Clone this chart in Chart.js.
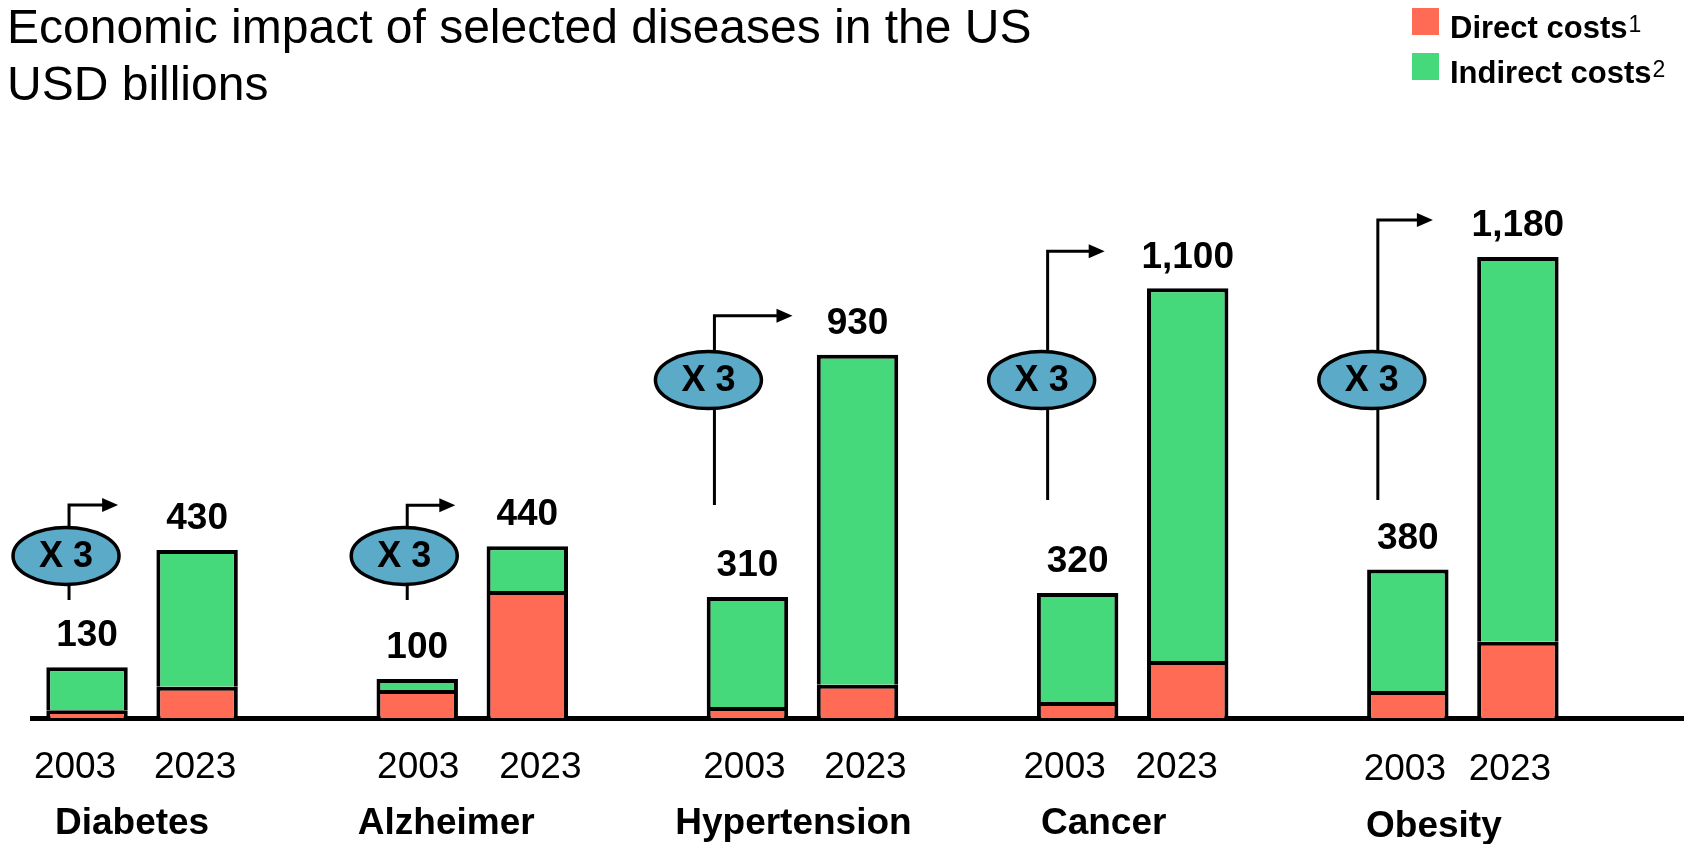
<!DOCTYPE html>
<html>
<head>
<meta charset="utf-8">
<script src="https://cdn.jsdelivr.net/npm/chart.js@4.4.1/dist/chart.umd.min.js"></script>
<style>
    html, body { margin: 0; padding: 0; background: #fff; }
    #wrap { width: 1686px; height: 844px; position: relative; }
</style>
</head>
<body>
<div id="wrap"><canvas id="cost-chart"></canvas></div>
<script>
// Values (USD billions)
const diseases = ['Diabetes', 'Alzheimer', 'Hypertension', 'Cancer', 'Obesity'];
const years = ['2003', '2023'];
const totals2003 = [130, 100, 310, 320, 380];
const totals2023 = [430, 440, 930, 1100, 1180];
const direct2003 = [20, 72, 28, 41, 69];
const direct2023 = [80, 325, 85, 146, 195];
const indirect2003 = [110, 28, 282, 279, 311];
const indirect2023 = [350, 115, 845, 954, 985];
const multipliers = ['X 3', 'X 3', 'X 3', 'X 3', 'X 3'];

const RED = '#FF6B55';
const GREEN = '#45D97C';
const BLUE = '#5AAAC8';
const FONT = '"Liberation Sans", Arial, sans-serif';

// Each disease takes 3 slots on the category axis: 2003, 2023, gap
const slotLabels = [];
const directData = [];
const indirectData = [];
diseases.forEach((d, i) => {
    slotLabels.push(years[0], years[1], '');
    directData.push(direct2003[i], direct2023[i], null);
    indirectData.push(indirect2003[i], indirect2023[i], null);
});

// Callout placement (pixel offsets / value levels), not data
const callouts = [
    { lineDx: -18, tipDx: -79, topDy: -45, ellipseAt: 415, bottomAt: 302, ellipseDx: -3 },
    { lineDx: -10, tipDx: -72, topDy: -41, ellipseAt: 415, bottomAt: 302, ellipseDx: -3 },
    { lineDx: -33, tipDx: -65, topDy: -39, ellipseAt: 865, bottomAt: 545, ellipseDx: -6 },
    { lineDx: -30, tipDx: -83, topDy: -37, ellipseAt: 865, bottomAt: 558, ellipseDx: -6 },
    { lineDx: -30, tipDx: -85, topDy: -37, ellipseAt: 865, bottomAt: 558, ellipseDx: -6 }
];
const nameNudge = [-10, -26, -9, -29, -29];
const yearNudge = [[-12, -2], [1, 13], [-3, 8], [-13, -11], [-3, -8]];

const decorations = {
    id: 'decorations',
    afterDraw(chart) {
        const ctx = chart.ctx;
        const x = chart.scales.x;
        const y = chart.scales.y;
        const area = chart.chartArea;
        ctx.save();
        ctx.fillStyle = '#000';

        // Title
        ctx.font = '48px ' + FONT;
        ctx.textAlign = 'left';
        ctx.textBaseline = 'alphabetic';
        ctx.fillText('Economic impact of selected diseases in the US', 7, 43);
        ctx.fillText('USD billions', 7, 100);

        // Legend
        const legendItems = [
            { text: 'Direct costs', sup: '1', color: RED, top: 8 },
            { text: 'Indirect costs', sup: '2', color: GREEN, top: 53 }
        ];
        legendItems.forEach(item => {
            ctx.fillStyle = item.color;
            ctx.fillRect(1412, item.top, 27, 27);
            ctx.fillStyle = '#000';
            ctx.font = 'bold 31px ' + FONT;
            ctx.fillText(item.text, 1450, item.top + 30);
            const w = ctx.measureText(item.text).width;
            ctx.font = '23px ' + FONT;
            ctx.fillText(item.sup, 1450 + w + 1, item.top + 24);
        });

        // Year labels under each bar
        ctx.font = '37px ' + FONT;
        ctx.textAlign = 'center';
        ctx.textBaseline = 'middle';
        diseases.forEach((d, i) => {
            years.forEach((yr, k) => {
                const px = x.getPixelForValue(i * 3 + k) + yearNudge[i][k];
                const py = area.bottom + 50 + (i === 4 ? 2 : 0);
                ctx.fillText(yr, px, py);
            });
        });

        // Totals above bars
        ctx.font = 'bold 37px ' + FONT;
        diseases.forEach((d, i) => {
            const t = [totals2003[i], totals2023[i]];
            t.forEach((v, k) => {
                const px = x.getPixelForValue(i * 3 + k);
                const py = y.getPixelForValue(v) - 31;
                ctx.fillText(v.toLocaleString('en-US'), px, py);
            });
        });

        // Disease names
        ctx.font = 'bold 37px ' + FONT;
        diseases.forEach((d, i) => {
            const px = (x.getPixelForValue(i * 3) + x.getPixelForValue(i * 3 + 1)) / 2 + nameNudge[i];
            const py = area.bottom + 106 + (i === 4 ? 3 : 0);
            ctx.fillText(d, px, py);
        });

        // Growth callouts
        diseases.forEach((d, i) => {
            const c = callouts[i];
            const lx = x.getPixelForValue(i * 3) + c.lineDx;
            const tipX = x.getPixelForValue(i * 3 + 1) + c.tipDx;
            const topY = y.getPixelForValue(totals2023[i]) + c.topDy;
            const bottomY = y.getPixelForValue(c.bottomAt);
            const ey = y.getPixelForValue(c.ellipseAt);

            ctx.strokeStyle = '#000';
            ctx.lineWidth = 3;
            ctx.beginPath();
            ctx.moveTo(lx, bottomY);
            ctx.lineTo(lx, topY);
            ctx.lineTo(tipX - 14, topY);
            ctx.stroke();

            ctx.fillStyle = '#000';
            ctx.beginPath();
            ctx.moveTo(tipX, topY);
            ctx.lineTo(tipX - 16, topY - 7);
            ctx.lineTo(tipX - 16, topY + 7);
            ctx.closePath();
            ctx.fill();

            ctx.beginPath();
            ctx.ellipse(lx + c.ellipseDx, ey, 53, 28.5, 0, 0, Math.PI * 2);
            ctx.fillStyle = BLUE;
            ctx.fill();
            ctx.lineWidth = 3.5;
            ctx.stroke();

            ctx.fillStyle = '#000';
            ctx.font = 'bold 36px ' + FONT;
            ctx.fillText(multipliers[i], lx + c.ellipseDx, ey + 1);
        });

        ctx.restore();
    }
};

const canvas = document.getElementById('cost-chart');
const ctx = canvas.getContext('2d');

new Chart(ctx, {
    type: 'bar',
    data: {
        labels: slotLabels,
        datasets: [
            {
                label: 'Direct costs',
                data: directData,
                backgroundColor: RED,
                borderColor: '#000',
                borderWidth: 4
            },
            {
                label: 'Indirect costs',
                data: indirectData,
                backgroundColor: GREEN,
                borderColor: '#000',
                borderWidth: 4
            }
        ]
    },
    options: {
        responsive: true,
        maintainAspectRatio: false,
        animation: false,
        layout: {
            padding: { top: 93, left: 32, right: 3, bottom: 0 }
        },
        datasets: {
            bar: { barPercentage: 1, categoryPercentage: 0.74 }
        },
        scales: {
            x: {
                stacked: true,
                grid: { display: false, drawTicks: false },
                border: { display: true, color: '#000', width: 5 },
                ticks: { display: false },
                afterFit: scale => { scale.height = 126; }
            },
            y: {
                stacked: true,
                display: false,
                min: 0,
                max: 1600
            }
        },
        plugins: {
            legend: { display: false },
            tooltip: { enabled: false },
            title: { display: false }
        }
    },
    plugins: [decorations]
});
</script>
</body>
</html>
